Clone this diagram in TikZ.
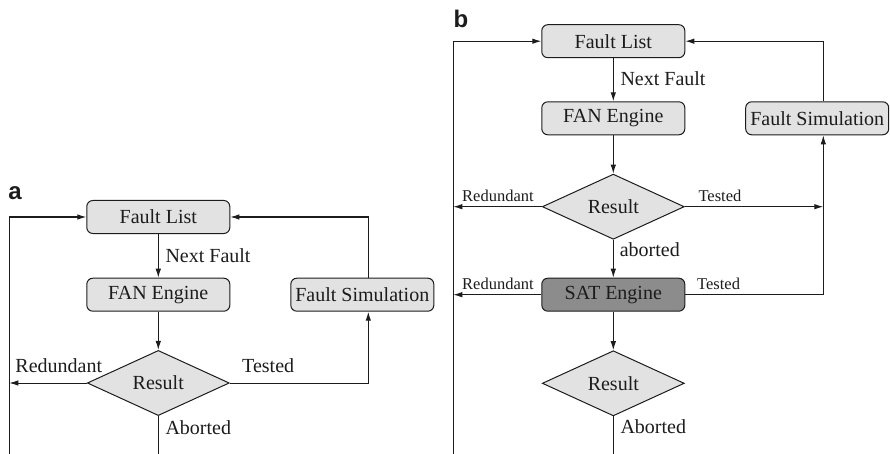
\documentclass[tikz,border=0pt]{standalone}
\usepackage{fontspec}
\setmainfont{Liberation Serif}
\newfontfamily\panelfont{Liberation Sans}
\usetikzlibrary{shapes.geometric,arrows.meta}
\definecolor{boxfill}{HTML}{E2E2E2}
\definecolor{satfill}{HTML}{8C8C8C}
\definecolor{ink}{HTML}{1C1C1C}
\tikzset{
  arr/.style={-{Latex[length=9pt,width=5.5pt]}},
  procbox/.style={draw=ink, line width=1pt, fill=boxfill, rounded corners=6pt,
    minimum width=143pt, minimum height=33pt, inner sep=0pt,
    font=\fontsize{20}{24}\selectfont},
  decision/.style={draw=ink, line width=1pt, fill=boxfill, diamond,
    minimum width=142pt, minimum height=55pt, inner sep=0pt,
    font=\fontsize{20}{24}\selectfont},
  biglabel/.style={anchor=west, inner sep=0pt, font=\fontsize{20}{24}\selectfont},
  smalllabel/.style={anchor=west, inner sep=0pt, font=\fontsize{16.5}{20}\selectfont},
  panel/.style={anchor=west, inner sep=0pt, font=\panelfont\bfseries\fontsize{24}{28}\selectfont},
}
\begin{document}
\begin{tikzpicture}[x=1pt, y=-1pt, line width=1pt, draw=ink, ink]
\useasboundingbox (0,0) rectangle (890,454);

% ---------- panel a ----------
\node[panel] (pa) at (8,193.5) {a};
\node[procbox] (aFL)  at (158.3,217)   {Fault List};
\node[procbox] (aFAN) at (158.3,294.7) {FAN Engine};
\node[procbox] (aFS)  at (362.3,294.7) {Fault Simulation};
\node[decision] (aRes) at (158.3,383)  {Result};

\coordinate (aLeft)  at (9.3,383);
\coordinate (aBot)   at (9.3,454);
\coordinate (aRight) at (368.3,383);
\coordinate (aEnd)   at (158.3,454);

\draw[arr] (aFL) -- (aFAN);
\draw[arr] (aFAN) -- (aRes);
\draw[arr] (aRes.west) -- (aLeft);
\draw[arr] (aBot) |- (aFL.west);
\draw[arr] (aRes.east) -- (aRight) -- (aRight |- aFS.south);
\draw[arr] (aRight |- aFS.north) |- (aFL.east);
\draw (aRes.south) -- (aEnd);

\node[biglabel] (aNext) at (165,255.7)   {Next Fault};
\node[biglabel] (aRed)  at (15,365.7)    {Redundant};
\node[biglabel] (aTst)  at (241.7,365.7) {Tested};
\node[biglabel] (aAbo)  at (165,427.3)   {Aborted};

% ---------- panel b ----------
\node[panel] (pb) at (453,18.5) {b};
\node[procbox] (bFL)  at (613.3,41.2)  {Fault List};
\node[procbox] (bFAN) at (613.3,118.3) {FAN Engine};
\node[procbox] (bFS)  at (817.2,118.3) {Fault Simulation};
\node[decision] (bRes) at (613.3,206.7) {Result};
\node[procbox, fill=satfill] (bSAT) at (613.3,294.7) {SAT Engine};
\node[decision] (bRes2) at (613.3,383.3) {Result};

\coordinate (bBot)   at (453.3,454);
\coordinate (bL1)    at (453.3,206.7);
\coordinate (bL2)    at (453.3,294.7);
\coordinate (bR1)    at (823.3,206.7);
\coordinate (bR2)    at (823.3,294.7);
\coordinate (bEnd)   at (613.3,454);

\draw[arr] (bBot) |- (bFL.west);
\draw[arr] (bFL) -- (bFAN);
\draw[arr] (bFAN) -- (bRes);
\draw[arr] (bRes.west) -- (bL1);
\draw[arr] (bRes.east) -- (bR1);
\draw[arr] (bRes) -- (bSAT);
\draw[arr] (bSAT.west) -- (bL2);
\draw[arr] (bSAT.east) -- (bR2) -- (bR2 |- bFS.south);
\draw[arr] (bR2 |- bFS.north) |- (bFL.east);
\draw[arr] (bSAT) -- (bRes2);
\draw (bRes2.south) -- (bEnd);

\node[biglabel]   (bNext) at (620,79)       {Next Fault};
\node[smalllabel] (bRed1) at (461.7,195.7)  {Redundant};
\node[smalllabel] (bTst1) at (698,195.7)    {Tested};
\node[biglabel]   (bAbo1) at (619.3,250)    {aborted};
\node[smalllabel] (bRed2) at (461.7,284.3)  {Redundant};
\node[smalllabel] (bTst2) at (696.7,284.3)  {Tested};
\node[biglabel]   (bAbo2) at (620,426.7)    {Aborted};
\end{tikzpicture}
\end{document}
